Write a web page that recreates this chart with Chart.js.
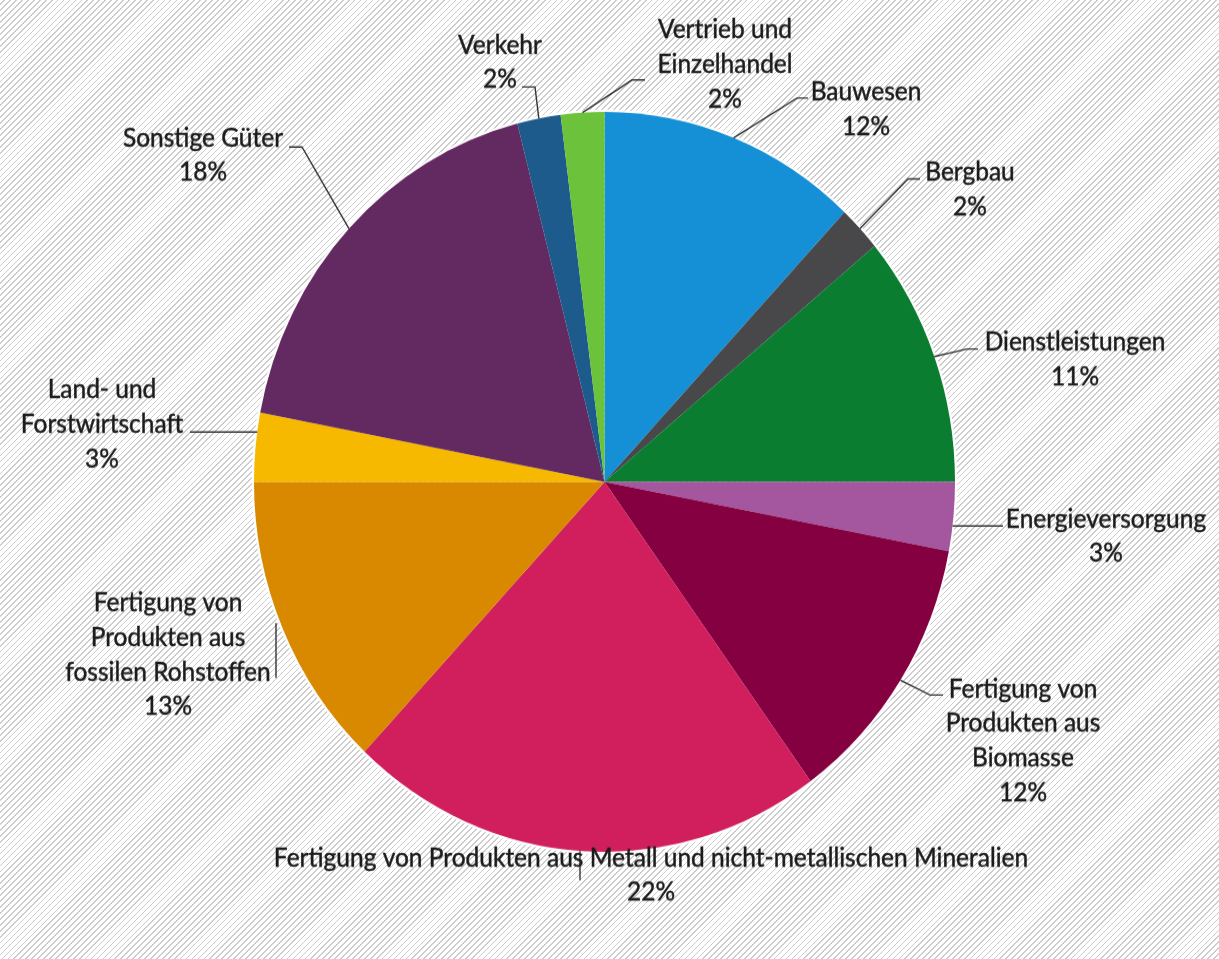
<!DOCTYPE html>
<html>
<head>
<meta charset="utf-8">
<script src="https://cdn.jsdelivr.net/npm/chart.js@4"></script>
<style>
  html, body { margin: 0; padding: 0; }
  body {
    width: 1219px;
    height: 959px;
    overflow: hidden;
    background: repeating-linear-gradient(135deg, #ffffff 0px, #ffffff 2.7px, #cdcdcd 2.7px, #cdcdcd 3.9px, #ffffff 3.9px, #ffffff 4.2px);
  }
  #wrap {
    position: absolute;
    left: 0;
    top: 0;
    width: 1219px;
    height: 908px;
    transform: scaleY(1.0556);
    transform-origin: 0 0;
  }
</style>
</head>
<body>
<div id="wrap"><canvas id="myChart" width="1219" height="908"></canvas></div>
<script>
// Anteile je Sektor (%), im Uhrzeigersinn ab 12 Uhr
const categories = [
    ['Bauwesen'],
    ['Bergbau'],
    ['Dienstleistungen'],
    ['Energieversorgung'],
    ['Fertigung von', 'Produkten aus', 'Biomasse'],
    ['Fertigung von Produkten aus Metall und nicht-metallischen Mineralien'],
    ['Fertigung von', 'Produkten aus', 'fossilen Rohstoffen'],
    ['Land- und', 'Forstwirtschaft'],
    ['Sonstige Güter'],
    ['Verkehr'],
    ['Vertrieb und', 'Einzelhandel']
];
const shares = [12, 2, 11, 3, 12, 22, 13, 3, 18, 2, 2];
const colors = ['#1590d6', '#48484b', '#0b7d30', '#a4569f', '#850040', '#d11f5d',
    '#d98900', '#f7b900', '#632a62', '#1c5b8b', '#6cc23a'];

// page is stretched vertically by this factor (see #wrap)
const SY = 1.0556;

// label placement in page pixels: text centre + first line, leader points,
// and how the leader meets the slice ('mid' = slice middle, 'h'/'v' = straight to the rim)
const labelLayout = [
    { x: 866, y: 92, pts: [[808, 98], [797, 98]], end: 'mid' },
    { x: 970, y: 172, pts: [[920, 179], [908, 179]], end: 'mid' },
    { x: 1075, y: 342, pts: [[978, 349], [967, 349]], end: 'mid' },
    { x: 1106, y: 519, pts: [[1003, 526]], end: 'h' },
    { x: 1023, y: 689, pts: [[943, 695], [930, 695]], end: 'mid' },
    { x: 651, y: 858, pts: [[580, 880]], end: 'v' },
    { x: 168, y: 603, pts: [[276, 623], [276, 678]], end: null },
    { x: 102, y: 390, pts: [[190, 432]], end: 'h' },
    { x: 203, y: 138, pts: [[289, 147], [302, 147]], end: 'mid' },
    { x: 500, y: 45, pts: [[522, 87], [535, 87]], end: 'mid' },
    { x: 725, y: 30, pts: [[645, 80], [632, 80]], end: 'mid' }
];
const lineGap = 34.5;

const rimHalo = {
    id: 'rimHalo',
    beforeDatasetsDraw(chart) {
        const arc = chart.getDatasetMeta(0).data[0];
        if (!arc) return;
        const c = chart.ctx;
        c.save();
        c.beginPath();
        c.arc(arc.x, arc.y, arc.outerRadius + 1, 0, Math.PI * 2);
        c.strokeStyle = 'rgba(255,255,255,0.9)';
        c.lineWidth = 2.5;
        c.stroke();
        c.restore();
    }
};

const outsideLabels = {
    id: 'outsideLabels',
    afterDatasetsDraw(chart) {
        const c = chart.ctx;
        const meta = chart.getDatasetMeta(0);
        c.save();
        meta.data.forEach((arc, i) => {
            const lay = labelLayout[i];
            const pts = lay.pts.map(p => [p[0], p[1] / SY]);
            const last = pts[pts.length - 1];
            const r = arc.outerRadius;
            if (lay.end === 'mid') {
                const mid = (arc.startAngle + arc.endAngle) / 2;
                pts.push([arc.x + Math.cos(mid) * r, arc.y + Math.sin(mid) * r]);
            } else if (lay.end === 'h') {
                const dy = last[1] - arc.y;
                const dx = Math.sqrt(r * r - dy * dy);
                pts.push([last[0] < arc.x ? arc.x - dx : arc.x + dx, last[1]]);
            } else if (lay.end === 'v') {
                const dx = last[0] - arc.x;
                const dy = Math.sqrt(r * r - dx * dx);
                pts.push([last[0], last[1] > arc.y ? arc.y + dy : arc.y - dy]);
            }
            c.beginPath();
            c.moveTo(pts[0][0], pts[0][1]);
            for (let k = 1; k < pts.length; k++) c.lineTo(pts[k][0], pts[k][1]);
            c.strokeStyle = '#333333';
            c.lineWidth = 1.4;
            c.stroke();

            const lines = categories[i].concat([shares[i] + '%']);
            c.fillStyle = '#1c1c1c';
            c.strokeStyle = '#1c1c1c';
            c.lineWidth = 0.45;
            c.font = '24.5px Lato';
            c.textAlign = 'center';
            c.textBaseline = 'middle';
            lines.forEach((t, k) => {
                const ty = (lay.y + k * lineGap) / SY;
                c.fillText(t, lay.x, ty);
                c.strokeText(t, lay.x, ty);
            });
        });
        c.restore();
    }
};

let ctx = document.getElementById('myChart').getContext('2d');

const data = {
    labels: categories.map(l => l.join(' ')),
    datasets: [{
        data: shares,
        backgroundColor: colors,
        borderWidth: 0
    }]
};

const config = {
    type: 'pie',
    data: data,
    options: {
        responsive: false,
        animation: false,
        layout: {
            padding: { left: 254, right: 264, top: 106, bottom: 101 }
        },
        plugins: {
            legend: { display: false },
            tooltip: { enabled: false }
        }
    },
    plugins: [rimHalo, outsideLabels]
};

let myChart = new Chart(ctx, config);
</script>
</body>
</html>
